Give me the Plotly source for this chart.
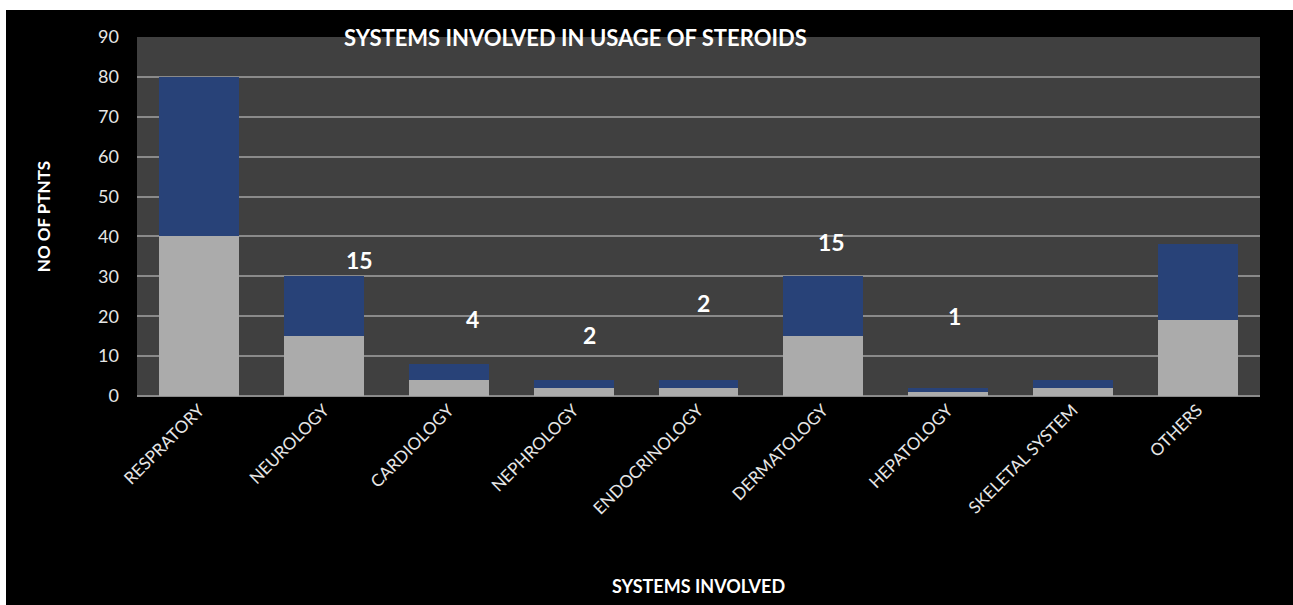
import plotly.graph_objects as go

categories = ["RESPRATORY", "NEUROLOGY", "CARDIOLOGY", "NEPHROLOGY", "ENDOCRINOLOGY",
              "DERMATOLOGY", "HEPATOLOGY", "SKELETAL SYSTEM", "OTHERS"]
lower_values = [40, 15, 4, 2, 2, 15, 1, 2, 19]
upper_values = [40, 15, 4, 2, 2, 15, 1, 2, 19]

label_cats = ["NEUROLOGY", "CARDIOLOGY", "NEPHROLOGY", "ENDOCRINOLOGY", "DERMATOLOGY", "HEPATOLOGY"]
label_texts = ["15", "4", "2", "2", "15", "1"]
label_y = [34, 19.3, 15.3, 23.3, 38.6, 20]
label_shift = [35, 24, 16, 5, 8, 6]

FONT = "Lato, 'Open Sans', sans-serif"

fig = go.Figure()
fig.add_trace(go.Bar(x=categories, y=lower_values, marker=dict(color="#ababab", line=dict(width=0)),
                     name="lower", hoverinfo="y"))
fig.add_trace(go.Bar(x=categories, y=upper_values, marker=dict(color="#284278", line=dict(width=0)),
                     name="upper", hoverinfo="y"))

for c, t, y, s in zip(label_cats, label_texts, label_y, label_shift):
    fig.add_annotation(x=c, y=y, text=f"<b>{t}</b>", showarrow=False, xshift=s,
                       font=dict(family=FONT, size=23, color="white"))

fig.add_annotation(text="<b>SYSTEMS INVOLVED IN USAGE OF STEROIDS</b>", xref="paper", yref="paper",
                   x=(575 - 137) / 1123, y=(396 - 38) / 359, showarrow=False,
                   xanchor="center", yanchor="middle",
                   font=dict(family=FONT, size=22, color="white"))

# white strips at top and left edge of the image
fig.add_shape(type="rect", xref="paper", yref="paper", x0=-0.2, x1=1.2,
              y0=(396 - 10) / 359, y1=1.2, fillcolor="white", line=dict(width=0), layer="above")
fig.add_shape(type="rect", xref="paper", yref="paper", x0=-0.2, x1=(6 - 137) / 1123,
              y0=-1, y1=1.2, fillcolor="white", line=dict(width=0), layer="above")

fig.update_layout(
    width=1293, height=605,
    barmode="stack", bargap=0.36,
    showlegend=False,
    paper_bgcolor="black", plot_bgcolor="#404040",
    margin=dict(l=137, r=33, t=37, b=209, autoexpand=False),
    font=dict(family=FONT, color="#e6e6e6"),
    xaxis=dict(tickangle=-45, tickfont=dict(size=17, color="#e6e6e6"), showgrid=False, automargin=False,
               title=dict(text="<b>SYSTEMS INVOLVED</b>", font=dict(size=18, color="white"), standoff=62),
               showline=False, ticks=""),
    yaxis=dict(range=[0, 90], dtick=10, gridcolor="#8a8a8a", gridwidth=1.5, automargin=False,
               tickfont=dict(size=18, color="#e6e6e6"), ticklabelstandoff=17,
               title=dict(text="<b>NO OF PTNTS</b>", font=dict(size=17, color="white"), standoff=43),
               zeroline=True, zerolinecolor="#8a8a8a", zerolinewidth=1.5, showline=False),
)

fig.write_html("out.html")
